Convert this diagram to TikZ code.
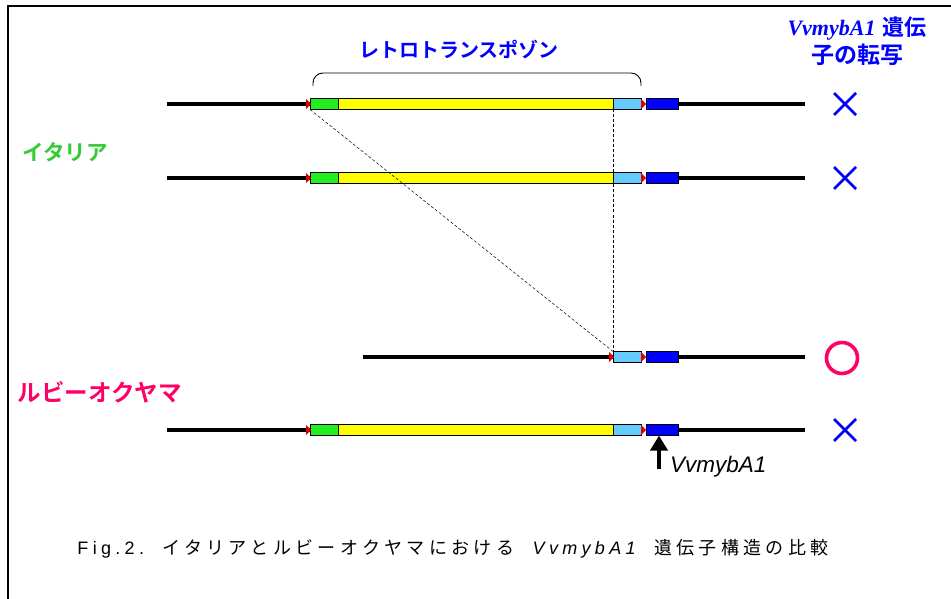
\documentclass[tikz,border=0pt]{standalone}
\usepackage{fontspec}
\setmainfont{Liberation Sans}
\newfontfamily\jp{Noto Sans CJK JP}
\newfontfamily\jpb{Noto Sans CJK JP Bold}
\newfontfamily\capfont[LetterSpace=24]{Liberation Sans}
\newfontfamily\capjp[LetterSpace=24]{Noto Sans CJK JP}
\newfontfamily\timesb{Liberation Serif}
\usetikzlibrary{arrows.meta}
\definecolor{gr}{HTML}{33CC33}
\definecolor{box green}{HTML}{22EE22}
\definecolor{lb}{HTML}{66CCFF}
\definecolor{yl}{HTML}{FFFF00}
\definecolor{bl}{HTML}{0000FF}
\definecolor{dbl}{HTML}{0000EE}
\definecolor{rb}{HTML}{FF0066}
\definecolor{tri}{HTML}{DD0000}
\tikzset{
  x=1pt,y=-1pt,
  dna/.style={line width=3.2pt},
  seg/.style={draw=black,line width=0.7pt,minimum height=11pt,inner sep=0pt,outer sep=0pt},
  cross/.style={draw=dbl,line width=2.8pt},
  guide/.style={line width=0.5pt,dash pattern=on 3pt off 2pt},
}
\newcommand{\tri}[2]{\fill[tri] (#1-4,#2-5) -- (#1+1,#2) -- (#1-4,#2+5) -- cycle;}
\newcommand{\full}[2]{%
  \draw[dna] (167,#1) -- (310,#1);
  \draw[dna] (678,#1) -- (805,#1);
  \node[seg,fill=box green,minimum width=28pt,anchor=west] (g#2) at (310,#1) {};
  \node[seg,fill=yl,minimum width=275pt,anchor=west] (y#2) at (338,#1) {};
  \node[seg,fill=lb,minimum width=28pt,anchor=west] (l#2) at (613,#1) {};
  \node[seg,fill=bl,minimum width=32pt,anchor=west] (b#2) at (646,#1) {};
  \tri{310}{#1}
  \tri{645}{#1}
}
\newcommand{\xmark}[3]{\draw[cross] (#1-11,#2-11) -- (#1+11,#2+11) (#1-11,#2+11) -- (#1+11,#2-11);
  \coordinate (#3) at (#1,#2);}
\begin{document}
\begin{tikzpicture}
\useasboundingbox (0,0) rectangle (951,599);
\fill[white] (0,0) rectangle (951,599);
% frame
\draw[line width=2.4pt] (8,599) -- (8,6) -- (951,6);

% rows
\full{104}{a}
\full{178}{b}
\full{430}{d}
% row 3 (truncated)
\draw[dna] (363,357) -- (613,357);
\draw[dna] (678,357) -- (805,357);
\node[seg,fill=lb,minimum width=28pt,anchor=west] (lc) at (613,357) {};
\node[seg,fill=bl,minimum width=32pt,anchor=west] (bc) at (646,357) {};
\tri{613}{357}
\tri{645}{357}

% dashed guides
\draw[guide] (ga.south west) -- (lc.north west);
\draw[guide] (la.south west) -- (lc.north west);

% brace
\draw[line width=0.9pt,rounded corners=10pt] (313,86) -- (313,73) -- (641,73) -- (641,86);
\node[text=bl,font=\jpb\fontsize{20}{22}\selectfont] (rt) at (459,50) {レトロトランスポゾン};

% labels
\node[text=gr,font=\jpb\fontsize{21.5}{23}\selectfont,anchor=west] (it) at (19,152) {イタリア};
\node[text=rb,font=\jpb\fontsize{23.5}{25}\selectfont,anchor=west] (rb) at (14,392) {ルビーオクヤマ};

% header
\node[text=bl,align=center,inner sep=0pt] (hd) at (857,41) {{\timesb\bfseries\itshape\fontsize{22}{24}\selectfont VvmybA1}\hspace{7pt}{\jpb\fontsize{22}{24}\selectfont 遺伝}\\[3pt]{\jpb\fontsize{23}{24}\selectfont 子の転写}};

% marks
\xmark{845}{104}{xa}
\xmark{845}{178}{xb}
\xmark{845}{430}{xd}
\draw[draw=rb,line width=3.6pt] (842,358) circle (15.5pt);
\coordinate (oc) at (842,358);

% arrow
\coordinate (ar) at (659,469);
\draw[-{Triangle[length=15pt,width=17pt]},line width=4pt] (ar) -- (bd.south -| ar);
\node[font=\itshape\fontsize{22.5}{24}\selectfont,anchor=west,inner sep=0pt] (vl) at (670,467) {VvmybA1};

% caption
\node[inner sep=0pt] (cap) at (453,549) {\capfont\fontsize{18}{20}\selectfont Fig.2.\ \ {\capjp イタリアとルビーオクヤマにおける}\ \ {\itshape VvmybA1}\ \ {\capjp 遺伝子構造の比較}};
\end{tikzpicture}
\end{document}
